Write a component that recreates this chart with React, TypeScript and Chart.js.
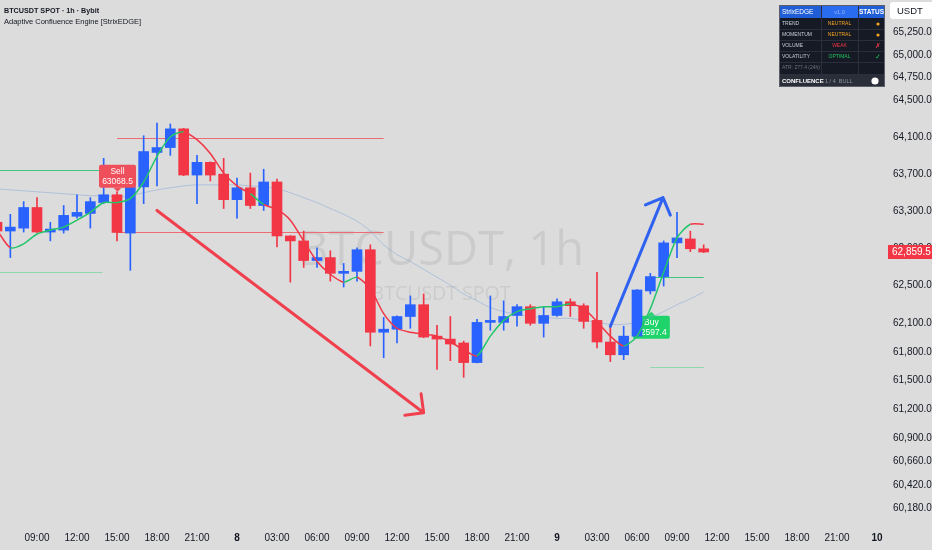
import { useEffect, useRef } from 'react'
import { Chart, registerables } from 'chart.js'

Chart.register(...registerables)

// hour index counted from day 7 00:00 (one candle per hour)
const hours = [
  6, 7, 8, 9, 10, 11, 12, 13, 14, 15,
  16, 17, 18, 19, 20, 21, 22, 23, 24, 25,
  26, 27, 28, 29, 30, 31, 32, 33, 34, 35,
  36, 37, 38, 39, 40, 41, 42, 43, 44, 45,
  46, 47, 48, 49, 50, 51, 52, 53, 54, 55,
  56, 57, 58, 59,
]

const opens = [
  63178, 63084, 63115, 63337, 63073, 63094, 63242, 63273, 63390, 63474,
  63062, 63559, 63932, 63985, 64189, 63687, 63825, 63697, 63421, 63549,
  63358, 63612, 63031, 62978, 62768, 62800, 62632, 62653, 62884, 62008,
  62040, 62174, 62299, 61967, 61936, 61895, 61689, 62112, 62112, 62185,
  62278, 62102, 62185, 62330, 62288, 62133, 61905, 61771, 61967, 62445,
  62597, 62957, 62999, 62894,
]
const highs = [
  63231, 63263, 63400, 63443, 63178, 63358, 63474, 63443, 63868, 63506,
  63565, 64114, 64253, 64242, 64195, 63900, 63830, 63868, 63655, 63708,
  63750, 63644, 63035, 63083, 62905, 62873, 62737, 62905, 62936, 62164,
  62180, 62392, 62413, 62081, 62174, 61915, 62143, 62392, 62340, 62299,
  62299, 62278, 62361, 62361, 62309, 62643, 62081, 62071, 62460, 62632,
  62978, 63284, 63083, 62936,
]
const lows = [
  63052, 62800, 63073, 63068, 62978, 63062, 63221, 63115, 63379, 62978,
  62664, 63379, 63570, 63900, 63680, 63379, 63623, 63326, 63221, 63326,
  63305, 62915, 62538, 62695, 62695, 62549, 62486, 62549, 61864, 61740,
  61895, 62050, 61950, 61617, 61709, 61535, 61685, 62029, 62029, 62071,
  62081, 61957, 62174, 62174, 62050, 61843, 61699, 61719, 61960, 62413,
  62497, 62800, 62863, 62852,
]
const closes = [
  63084, 63126, 63337, 63073, 63105, 63252, 63284, 63400, 63474, 63068.5,
  63559, 63942, 63985, 64189, 63687, 63825, 63687, 63421, 63549, 63358,
  63612, 63031, 62978, 62768, 62800, 62632, 62653, 62884, 62008, 62040,
  62174, 62299, 61957, 61936, 61884, 61689, 62112, 62122, 62174, 62278,
  62102, 62185, 62330, 62288, 62122, 61905, 61771, 61967, 62455, 62597.4,
  62957, 63010, 62894, 62859.5,
]

// adaptive trailing line and its direction (1 = bull, -1 = bear)
const trail = [
  63094, 62905, 62947, 63052, 63094, 63126, 63200, 63284, 63390, 63390,
  63432, 63612, 63889, 64103, 64156, 64071, 63921, 63708, 63570, 63485,
  63369, 63316, 63200, 62978, 62758, 62622, 62538, 62591, 62465, 62205,
  62050, 62008, 61988, 61967, 61905, 61823, 61759, 61967, 62133, 62226,
  62257, 62278, 62278, 62309, 62257, 62122, 61967, 61864, 61967, 62257,
  62643, 63010, 63157, 63157,
]
const trailDir = [
  -1, 1, 1, 1, 1, 1, 1, 1, 1, 1,
  1, 1, 1, 1, -1, -1, -1, -1, -1, 1,
  -1, -1, -1, -1, -1, -1, 1, -1, -1, -1,
  -1, -1, -1, -1, -1, -1, 1, 1, 1, 1,
  1, 1, 1, -1, -1, -1, -1, 1, 1, 1,
  1, 1, -1, -1,
]

// slow baseline
const baseline = [
  63538, 63527, 63517, 63506, 63496, 63485, 63474, 63464, 63464, 63453,
  63464, 63496, 63527, 63549, 63570, 63581, 63581, 63581, 63581, 63570,
  63559, 63538, 63496, 63443, 63390, 63326, 63263, 63189, 63084, 62936,
  62831, 62758, 62674, 62591, 62507, 62413, 62340, 62268, 62226, 62195,
  62174, 62164, 62154, 62154, 62133, 62112, 62091, 62091, 62112, 62164,
  62226, 62299, 62361, 62434,
]

const priceTicks = [
  60180, 60420, 60660, 60900, 61200, 61500, 61800, 62100, 62500, 62900,
  63300, 63700, 64100, 64500, 64750, 65000, 65250,
]
const timeTicks = [9, 12, 15, 18, 21, 24, 27, 30, 33, 36, 39, 42, 45, 48, 51, 54, 57, 60, 63, 66, 69, 72]

// signal levels: entry / stop / target segments
const levelPrices = [63740, 62643, 64092, 63068.5, 62597.4, 61647]
const levelFrom = [6, 6, 15, 15, 55, 55]
const levelTo = [13.7, 13.9, 35, 35, 59, 59]

const sellSignal = { hour: 15, price: 63068.5 }
const buySignal = { hour: 55, price: 62597.4 }

// drawn arrows [hour, price]
const redArrow = [[18, 63305], [38, 61166]]
const blueArrow = [[52, 62070], [55.95, 63443]]

const tableLabels = ['TREND', 'MOMENTUM', 'VOLUME', 'VOLATILITY']
const tableValues = ['NEUTRAL', 'NEUTRAL', 'WEAK', 'OPTIMAL']

const BG = '#dcdcdc'
const UP = '#2962ff'
const DOWN = '#f23645'
const GREEN = '#22c56a'
const FONT = '"Liberation Sans", Arial, sans-serif'
const levelColors = ['#3fc67e', '#8fd6ad', '#ee6b72', '#ee6b72', '#3fc67e', '#8fd6ad']
const valueColors = ['#f5a524', '#f5a524', '#f23645', '#22c55e']

const timeLabel = (h: number) =>
  h % 24 === 0 ? String(7 + h / 24) : String(h % 24).padStart(2, '0') + ':00'

function drawArrow(ctx: CanvasRenderingContext2D, x1: number, y1: number, x2: number, y2: number, color: string) {
  const a = Math.atan2(y2 - y1, x2 - x1)
  const head = 19
  ctx.strokeStyle = color
  ctx.lineWidth = 3
  ctx.lineCap = 'round'
  ctx.lineJoin = 'round'
  ctx.beginPath()
  ctx.moveTo(x1, y1)
  ctx.lineTo(x2, y2)
  ctx.moveTo(x2 - head * Math.cos(a - Math.PI / 4), y2 - head * Math.sin(a - Math.PI / 4))
  ctx.lineTo(x2, y2)
  ctx.lineTo(x2 - head * Math.cos(a + Math.PI / 4), y2 - head * Math.sin(a + Math.PI / 4))
  ctx.stroke()
}

function drawTag(ctx: CanvasRenderingContext2D, cx: number, tip: number, below: boolean, fill: string, lines: string[]) {
  const w = 37
  const h = 23
  const top = below ? tip + 4 : tip - 4 - h
  ctx.fillStyle = fill
  ctx.beginPath()
  ctx.roundRect(cx - w / 2, top, w, h, 2)
  ctx.fill()
  ctx.beginPath()
  if (below) {
    ctx.moveTo(cx - 4, top)
    ctx.lineTo(cx, tip)
    ctx.lineTo(cx + 4, top)
  } else {
    ctx.moveTo(cx - 4, top + h)
    ctx.lineTo(cx, tip)
    ctx.lineTo(cx + 4, top + h)
  }
  ctx.fill()
  ctx.fillStyle = '#ffffff'
  ctx.font = `8.5px ${FONT}`
  ctx.textAlign = 'center'
  ctx.textBaseline = 'middle'
  ctx.fillText(lines[0], cx, top + 7)
  ctx.fillText(lines[1], cx, top + 17)
}

function drawTable(ctx: CanvasRenderingContext2D) {
  const x0 = 779
  const c1 = 821
  const c2 = 858
  const x1 = 885
  ctx.fillStyle = '#161a25'
  ctx.fillRect(x0, 5, x1 - x0, 82)
  ctx.fillStyle = '#1f5ed6'
  ctx.fillRect(x0, 5, x1 - x0, 13)
  ctx.fillStyle = '#2a6cf0'
  ctx.fillRect(c1, 5, c2 - c1, 13)
  ctx.fillStyle = '#2a2e39'
  ctx.fillRect(x0, 74, x1 - x0, 13)

  ctx.strokeStyle = '#2b2f3b'
  ctx.lineWidth = 1
  ctx.beginPath()
  for (const yy of [29, 40, 51, 62, 74]) {
    ctx.moveTo(x0, yy + 0.5)
    ctx.lineTo(x1, yy + 0.5)
  }
  for (const xx of [c1, c2]) {
    ctx.moveTo(xx + 0.5, 5)
    ctx.lineTo(xx + 0.5, 87)
  }
  ctx.stroke()
  ctx.strokeStyle = '#5a5e69'
  ctx.strokeRect(x0 + 0.5, 5.5, x1 - x0 - 1, 81)

  ctx.textBaseline = 'middle'
  ctx.textAlign = 'left'
  ctx.fillStyle = '#ffffff'
  ctx.font = `6.5px ${FONT}`
  ctx.fillText('StrixEDGE', x0 + 3, 12)
  ctx.textAlign = 'center'
  ctx.fillStyle = '#9db8ff'
  ctx.font = `5.5px ${FONT}`
  ctx.fillText('v1.0', (c1 + c2) / 2, 12)
  ctx.fillStyle = '#ffffff'
  ctx.font = `bold 6.5px ${FONT}`
  ctx.fillText('STATUS', (c2 + x1) / 2, 12)

  tableLabels.forEach((label, i) => {
    const cy = 24 + i * 11
    ctx.textAlign = 'left'
    ctx.fillStyle = '#c9ccd4'
    ctx.font = `5px ${FONT}`
    ctx.fillText(label, x0 + 3, cy)
    ctx.textAlign = 'center'
    ctx.fillStyle = valueColors[i]
    ctx.fillText(tableValues[i], (c1 + c2) / 2, cy)
    const mx = 878
    if (i < 2) {
      ctx.beginPath()
      ctx.arc(mx, cy, 1.6, 0, Math.PI * 2)
      ctx.fill()
    } else {
      ctx.font = `7px "DejaVu Sans", sans-serif`
      ctx.fillText(i === 2 ? '✗' : '✓', mx, cy)
    }
  })
  ctx.textAlign = 'left'
  ctx.fillStyle = '#6f7380'
  ctx.font = `5px ${FONT}`
  ctx.fillText('ATR: 277.4 (24h)', x0 + 3, 68)
  ctx.fillStyle = '#ffffff'
  ctx.font = `bold 6px ${FONT}`
  ctx.fillText('CONFLUENCE', x0 + 3, 81)
  ctx.fillStyle = '#8f939e'
  ctx.font = `5.5px ${FONT}`
  ctx.fillText('1 / 4  BULL', c1 + 4, 81)
  ctx.fillStyle = '#ffffff'
  ctx.beginPath()
  ctx.arc(875, 81, 3.6, 0, Math.PI * 2)
  ctx.fill()
}

const overlay = {
  id: 'overlay',
  beforeDraw(chart: any) {
    const { ctx, width, height } = chart
    ctx.save()
    ctx.fillStyle = BG
    ctx.fillRect(0, 0, width, height)
    ctx.restore()
  },
  beforeDatasetsDraw(chart: any) {
    const { ctx, chartArea: a, scales } = chart
    const x = scales.x
    const y = scales.y
    ctx.save()
    ctx.beginPath()
    ctx.rect(a.left, a.top, a.right - a.left, a.bottom - a.top)
    ctx.clip()

    const mid = (a.left + a.right) / 2 - 4
    ctx.fillStyle = 'rgba(0,0,0,0.075)'
    ctx.textAlign = 'center'
    ctx.textBaseline = 'alphabetic'
    ctx.font = `47px "Open Sans", sans-serif`
    ctx.fillText('BTCUSDT, 1h', mid, 265)
    ctx.font = `19.5px "Open Sans", sans-serif`
    ctx.fillText('BTCUSDT SPOT', mid, 300)

    ctx.lineWidth = 1
    levelPrices.forEach((p, i) => {
      const py = Math.round(y.getPixelForValue(p)) + 0.5
      ctx.strokeStyle = levelColors[i]
      ctx.beginPath()
      ctx.moveTo(x.getPixelForValue(levelFrom[i]), py)
      ctx.lineTo(x.getPixelForValue(levelTo[i]), py)
      ctx.stroke()
    })

    const bi = hours.indexOf(buySignal.hour)
    drawTag(ctx, x.getPixelForValue(buySignal.hour) + 1, y.getPixelForValue(trail[bi]) + 3, true, '#1fd36b', [
      'Buy',
      buySignal.price.toFixed(1),
    ])
    ctx.restore()
  },
  afterDatasetsDraw(chart: any) {
    const { ctx, scales } = chart
    const x = scales.x
    const y = scales.y
    ctx.save()
    drawArrow(
      ctx,
      x.getPixelForValue(redArrow[0][0]),
      y.getPixelForValue(redArrow[0][1]),
      x.getPixelForValue(redArrow[1][0]),
      y.getPixelForValue(redArrow[1][1]),
      '#f0404e',
    )
    drawArrow(
      ctx,
      x.getPixelForValue(blueArrow[0][0]),
      y.getPixelForValue(blueArrow[0][1]),
      x.getPixelForValue(blueArrow[1][0]),
      y.getPixelForValue(blueArrow[1][1]),
      '#2f62f0',
    )
    const si = hours.indexOf(sellSignal.hour)
    drawTag(ctx, x.getPixelForValue(sellSignal.hour) + 0.5, y.getPixelForValue(highs[si]), false, '#ef4f5b', [
      'Sell',
      sellSignal.price.toFixed(1),
    ])
    ctx.restore()
  },
  afterDraw(chart: any) {
    const { ctx, scales } = chart
    const y = scales.y
    ctx.save()
    ctx.textAlign = 'left'
    ctx.textBaseline = 'middle'
    ctx.fillStyle = '#131722'
    ctx.font = `bold 7.2px ${FONT}`
    ctx.fillText('BTCUSDT SPOT · 1h · Bybit', 4, 11)
    ctx.font = `7.5px ${FONT}`
    ctx.fillText('Adaptive Confluence Engine [StrixEDGE]', 4, 22)

    drawTable(ctx)

    ctx.fillStyle = '#ffffff'
    ctx.beginPath()
    ctx.roundRect(890, 2, 44, 17, 3)
    ctx.fill()
    ctx.fillStyle = '#131722'
    ctx.font = `9.5px ${FONT}`
    ctx.fillText('USDT', 897, 11)

    const last = closes[closes.length - 1]
    const ly = y.getPixelForValue(last)
    ctx.fillStyle = '#f23645'
    ctx.fillRect(888, ly - 7, 44, 14)
    ctx.fillStyle = '#ffffff'
    ctx.font = `10px ${FONT}`
    ctx.fillText(last.toLocaleString('en-US', { minimumFractionDigits: 1 }), 892, ly + 0.5)
    ctx.restore()
  },
}

export default function App() {
  const canvasRef = useRef<HTMLCanvasElement | null>(null)

  useEffect(() => {
    if (!canvasRef.current) return
    const colorOf = (i: number) => (closes[i] >= opens[i] ? UP : DOWN)

    const chart = new Chart(canvasRef.current, {
      type: 'bar',
      data: {
        datasets: [
          {
            type: 'line',
            data: hours.map((h, i) => ({ x: h, y: baseline[i] })),
            borderColor: 'rgba(120,160,215,0.45)',
            borderWidth: 1,
            pointRadius: 0,
            tension: 0.3,
            order: 5,
          },
          {
            type: 'bar',
            data: hours.map((h, i) => ({ x: h, y: [lows[i], highs[i]] })),
            backgroundColor: hours.map((_, i) => colorOf(i)),
            barThickness: 1,
            grouped: false,
            order: 4,
          },
          {
            type: 'bar',
            data: hours.map((h, i) => ({ x: h, y: [opens[i], closes[i]] })),
            backgroundColor: hours.map((_, i) => colorOf(i)),
            barThickness: 10,
            minBarLength: 2,
            grouped: false,
            order: 3,
          },
          {
            type: 'line',
            data: hours.map((h, i) => ({ x: h, y: trail[i] })),
            borderColor: GREEN,
            borderWidth: 1.5,
            pointRadius: 0,
            tension: 0.25,
            segment: {
              borderColor: (c: any) => (trailDir[c.p0DataIndex] > 0 ? GREEN : DOWN),
            },
            order: 1,
          },
        ] as any,
      },
      options: {
        animation: false,
        responsive: true,
        maintainAspectRatio: false,
        layout: { padding: 0 },
        plugins: { legend: { display: false }, tooltip: { enabled: false } },
        scales: {
          x: {
            type: 'linear',
            min: 6.225,
            max: 72.975,
            bounds: 'data',
            offset: false,
            grid: { display: false, drawTicks: false },
            border: { display: false },
            afterBuildTicks: (s: any) => {
              s.ticks = timeTicks.map((v) => ({ value: v }))
            },
            afterFit: (s: any) => {
              s.height = 28
            },
            ticks: {
              autoSkip: false,
              maxRotation: 0,
              padding: 10,
              color: '#131722',
              font: (c: any) => ({
                family: FONT,
                size: 10,
                weight: c.tick && c.tick.value % 24 === 0 ? 'bold' : 'normal',
              }),
              callback: (v: any) => timeLabel(Number(v)),
            },
          },
          y: {
            type: 'logarithmic',
            position: 'right',
            min: 60040,
            max: 65510,
            bounds: 'data',
            grid: { display: false, drawTicks: false },
            border: { display: false },
            afterBuildTicks: (s: any) => {
              s.ticks = priceTicks.map((v) => ({ value: v }))
            },
            afterFit: (s: any) => {
              s.width = 42
            },
            ticks: {
              padding: 3,
              color: '#131722',
              font: { family: FONT, size: 10 },
              callback: (v: any) =>
                Number(v).toLocaleString('en-US', { minimumFractionDigits: 1, maximumFractionDigits: 1 }),
            },
          },
        },
      } as any,
      plugins: [overlay as any],
    })

    return () => {
      chart.destroy()
    }
  }, [])

  return (
    <div style={{ position: 'fixed', left: 0, top: 0, width: 932, height: 550, background: BG }}>
      <canvas ref={canvasRef} />
    </div>
  )
}
